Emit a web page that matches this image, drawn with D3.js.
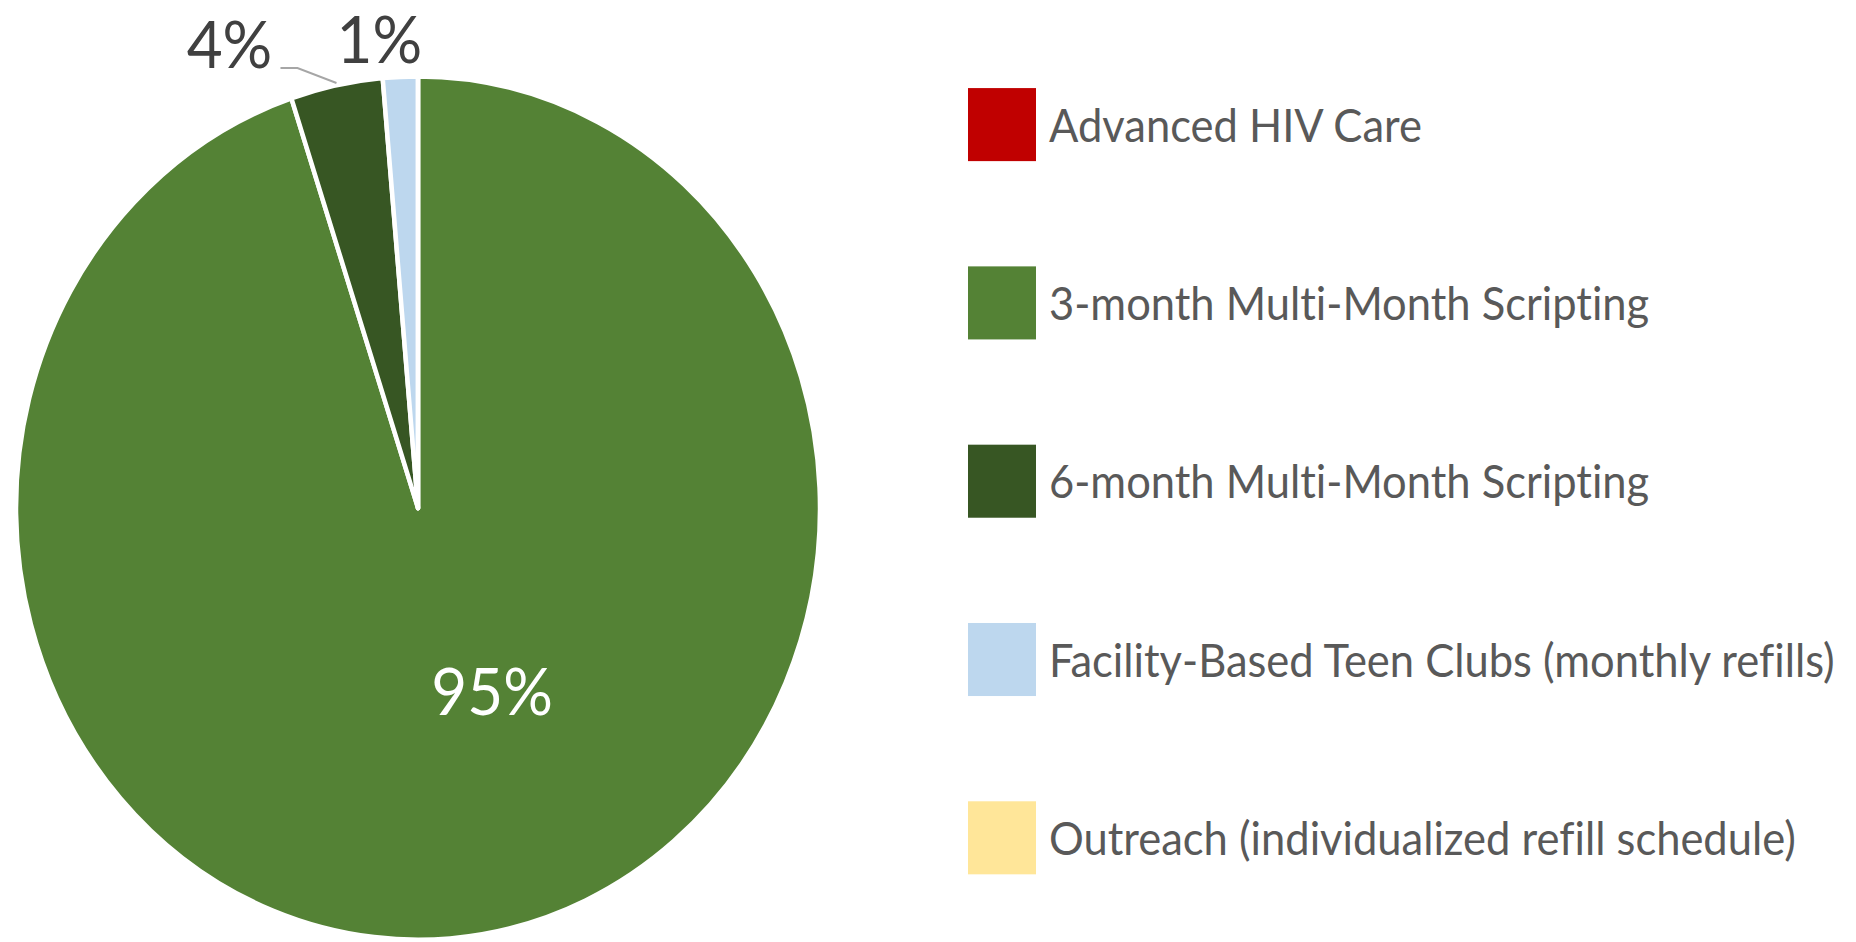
<!DOCTYPE html>
<html>
<head>
<meta charset="utf-8">
<script src="https://cdn.jsdelivr.net/npm/d3@7"></script>
<style>
  html, body { margin: 0; padding: 0; background: #fff; }
  svg { display: block; }
  text { font-family: Lato, "Noto Sans", sans-serif; font-variant-ligatures: none; }
</style>
</head>
<body>
<div id="chart"></div>
<script>
// chart data
const categories = [
    "Advanced HIV Care",
    "3-month Multi-Month Scripting",
    "6-month Multi-Month Scripting",
    "Facility-Based Teen Clubs (monthly refills)",
    "Outreach (individualized refill schedule)"
];
const values = [0, 949, 37, 14, 0];
const colors = ["#C00000", "#548235", "#375623", "#BDD7EE", "#FFE699"];

// layout (inner frame is stretched vertically to fill the window)
const width = 1856;
const height = 942;
const innerHeight = 877;
const center = { x: 418, y: 473 };
const radius = 402;
const legend = { x: 968, top: 82, step: 166, box: 68, gap: 13 };

// label placement relative to slice (outside labels use the arc edge point)
const labelLayout = [
    null,
    { inside: true, dx: 42, dy: -6, color: "#ffffff" },
    { inside: false, dx: -107, dy: -16, color: "#404040", leader: true },
    { inside: false, dx: -21, dy: -13, color: "#404040" },
    null
];

function drawChart() {
    const total = d3.sum(values);
    const fmt = d3.format(".0%");

    const svg = d3.select("#chart")
        .append("svg")
        .attr("width", width)
        .attr("height", height)
        .attr("viewBox", `0 0 ${width} ${innerHeight}`)
        .attr("preserveAspectRatio", "none");

    const pie = d3.pie().sort(null).value(d => d);
    const arcs = pie(values).map((a, i) => ({ ...a, i }));

    const arc = d3.arc().innerRadius(0).outerRadius(radius);
    const edgeArc = d3.arc().innerRadius(radius).outerRadius(radius);
    const midArc = d3.arc().innerRadius(radius * 0.5).outerRadius(radius * 0.5);

    const g = svg.append("g")
        .attr("transform", `translate(${center.x},${center.y})`);

    g.selectAll("path.slice")
        .data(arcs)
        .join("path")
        .attr("class", "slice")
        .attr("d", arc)
        .attr("fill", d => colors[d.i])
        .attr("stroke", "#fff")
        .attr("stroke-width", 4.5)
        .attr("stroke-linejoin", "round");

    // data labels
    const labeled = arcs.filter(d => d.value > 0 && labelLayout[d.i]);
    labeled.forEach(d => {
        const lay = labelLayout[d.i];
        const [px, py] = lay.inside ? midArc.centroid(d) : edgeArc.centroid(d);
        const tx = px + lay.dx;
        const ty = py + lay.dy;

        if (lay.leader) {
            const textEnd = tx + 51;
            g.append("polyline")
                .attr("points", `${textEnd},${ty} ${textEnd + 17},${ty} ${px},${py - 2}`)
                .attr("fill", "none")
                .attr("stroke", "#a6a6a6")
                .attr("stroke-width", 2);
        }

        g.append("text")
            .attr("x", tx)
            .attr("y", ty)
            .attr("text-anchor", "middle")
            .attr("fill", lay.color)
            .style("font-size", "62px")
            .text(fmt(d.value / total));
    });

    // legend
    const leg = svg.append("g")
        .attr("transform", `translate(${legend.x},${legend.top})`);

    const items = leg.selectAll("g.item")
        .data(categories)
        .join("g")
        .attr("class", "item")
        .attr("transform", (d, i) => `translate(0,${i * legend.step})`);

    items.append("rect")
        .attr("width", legend.box)
        .attr("height", legend.box)
        .attr("fill", (d, i) => colors[i]);

    items.append("text")
        .attr("x", legend.box + legend.gap)
        .attr("y", legend.box / 2 + 16)
        .attr("fill", "#595959")
        .style("font-size", "43.5px")
        .text(d => d);
}

document.addEventListener("DOMContentLoaded", drawChart);
</script>
</body>
</html>
